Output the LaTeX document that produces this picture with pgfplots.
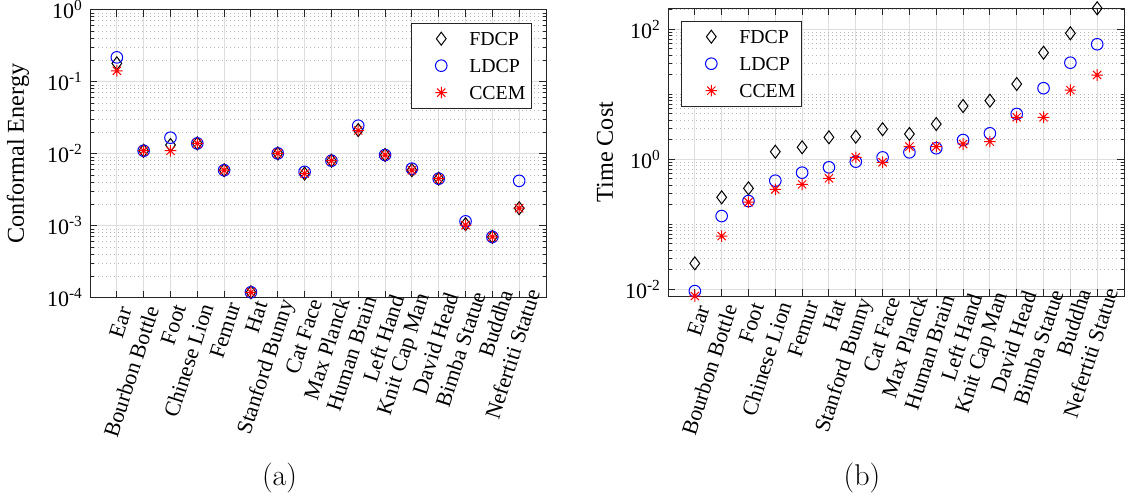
\documentclass[border=0pt]{standalone}
\usepackage{pgfplots}
\pgfplotsset{compat=1.18}
\usepackage{pgfplotstable}
\usepackage{fontspec}
\newfontfamily\tnr{Liberation Serif}
\usetikzlibrary{plotmarks}

\pgfdeclareplotmark{mstar}{%
  \pgfpathmoveto{\pgfqpoint{0pt}{\pgfplotmarksize}}%
  \pgfpathlineto{\pgfqpoint{0pt}{-\pgfplotmarksize}}%
  \pgfpathmoveto{\pgfqpoint{\pgfplotmarksize}{0pt}}%
  \pgfpathlineto{\pgfqpoint{-\pgfplotmarksize}{0pt}}%
  \pgfpathmoveto{\pgfqpoint{.707\pgfplotmarksize}{.707\pgfplotmarksize}}%
  \pgfpathlineto{\pgfqpoint{-.707\pgfplotmarksize}{-.707\pgfplotmarksize}}%
  \pgfpathmoveto{\pgfqpoint{-.707\pgfplotmarksize}{.707\pgfplotmarksize}}%
  \pgfpathlineto{\pgfqpoint{.707\pgfplotmarksize}{-.707\pgfplotmarksize}}%
  \pgfusepathqstroke}

\pgfplotstableread{
x fdcp ldcp ccem
1 0.18 0.218 0.142
2 0.011 0.011 0.011
3 0.0132 0.0167 0.011
4 0.0139 0.0139 0.0139
5 0.0059 0.0059 0.0059
6 1.19e-4 1.19e-4 1.19e-4
7 0.0101 0.0101 0.0101
8 0.0053 0.0056 0.0053
9 0.008 0.008 0.008
10 0.0213 0.0245 0.021
11 0.0096 0.0096 0.0096
12 0.0059 0.0062 0.0059
13 0.0045 0.0045 0.0045
14 0.00105 0.00115 0.00102
15 0.0007 0.0007 0.0007
16 0.00175 0.0042 0.00175
}\energy

\pgfplotstableread{
x fdcp ldcp ccem
1 0.0251 0.0094 0.0079
2 0.26 0.134 0.066
3 0.358 0.228 0.22
4 1.31 0.469 0.345
5 1.53 0.623 0.412
6 2.18 0.753 0.51
7 2.23 0.92 1.07
8 2.9 1.07 0.9
9 2.45 1.28 1.57
10 3.49 1.48 1.57
11 6.6 1.98 1.72
12 7.98 2.51 1.87
13 14.4 4.98 4.43
14 43.6 12.4 4.43
15 86.7 30.6 11.6
16 210 58.8 19.8
}\timecost

\pgfplotsset{
  fd/.style={only marks, mark=diamond, mark size=3.25pt, black, line width=0.5pt},
  ld/.style={only marks, mark=o, mark size=2.9pt, blue, line width=0.5pt},
  cc/.style={only marks, mark=mstar, mark size=2.9pt, red, line width=0.5pt},
}

\begin{document}
\begin{tikzpicture}
\path[use as bounding box] (0pt,0pt) rectangle (566.5pt,-250pt);

\begin{axis}[at={(45pt,-148.85pt)}, anchor=south west,
  scale only axis, width=228pt, height=144pt,
  ymode=log, xmin=0, xmax=17, xtick={1,...,16},
  xticklabels={Ear,Bourbon Bottle,Foot,Chinese Lion,Femur,Hat,Stanford Bunny,Cat Face,Max Planck,Human Brain,Left Hand,Knit Cap Man,David Head,Bimba Statue,Buddha,Nefertiti Statue},
  xticklabel style={rotate=72, anchor=east, font=\tnr\fontsize{11}{13}\selectfont, xshift=\ticknum*0.62pt, yshift=-5.5pt},
  yticklabel style={font=\tnr\fontsize{11}{13}\selectfont},
  tick align=inside, major tick length=3.5pt, minor tick length=1.75pt,
  xmajorgrids, ymajorgrids, yminorgrids,
  major grid style={black!13, line width=0.5pt},
  minor grid style={black!28, dash pattern=on 0.5pt off 1.5pt, line width=0.5pt},
  axis line style={black!85, line width=0.5pt},
  every tick/.style={black!85, line width=0.5pt},
  clip=false,
  label style={font=\tnr\fontsize{12.1}{14}\selectfont},
  legend cell align=left,
  legend style={draw=black!85, line width=0.5pt, fill=white,
    font=\tnr\fontsize{9.9}{11}\selectfont, inner xsep=12pt, inner ysep=4.45pt,
    row sep=6.9pt, nodes={inner sep=0pt, text height=6.6pt, text depth=0pt},
    /tikz/column 1/.style={column sep=11.1pt},
    at={(0.969,0.955)}, anchor=north east},
  ymin=1e-4, ymax=1,
  ytick={1e-4,1e-3,1e-2,1e-1,1},
  yticklabels={10\textsuperscript{-4},10\textsuperscript{-3},10\textsuperscript{-2},10\textsuperscript{-1},10\textsuperscript{0}},
  minor ytick={2e-4,3e-4,4e-4,5e-4,6e-4,7e-4,8e-4,9e-4,2e-3,3e-3,4e-3,5e-3,6e-3,7e-3,8e-3,9e-3,0.02,0.03,0.04,0.05,0.06,0.07,0.08,0.09,0.2,0.3,0.4,0.5,0.6,0.7,0.8,0.9},
  ylabel={Conformal Energy},
  ylabel style={at={(axis description cs:-0.158,0.5)}, anchor=center},
]
\addplot[fd] table[x=x, y=fdcp] {\energy};
\addplot[ld] table[x=x, y=ldcp] {\energy};
\addplot[cc] table[x=x, y=ccem] {\energy};
\legend{FDCP\hspace*{-9pt},LDCP\hspace*{-9pt},CCEM\hspace*{-9pt}}
\end{axis}

\begin{axis}[at={(334pt,-148pt)}, anchor=south west,
  scale only axis, width=228pt, height=143.85pt,
  ymode=log, xmin=0, xmax=17, xtick={1,...,16},
  xticklabels={Ear,Bourbon Bottle,Foot,Chinese Lion,Femur,Hat,Stanford Bunny,Cat Face,Max Planck,Human Brain,Left Hand,Knit Cap Man,David Head,Bimba Statue,Buddha,Nefertiti Statue},
  xticklabel style={rotate=72, anchor=east, font=\tnr\fontsize{11}{13}\selectfont, xshift=\ticknum*0.62pt, yshift=-5.5pt},
  yticklabel style={font=\tnr\fontsize{11}{13}\selectfont},
  tick align=inside, major tick length=3.5pt, minor tick length=1.75pt,
  xmajorgrids, ymajorgrids, yminorgrids,
  major grid style={black!13, line width=0.5pt},
  minor grid style={black!28, dash pattern=on 0.5pt off 1.5pt, line width=0.5pt},
  axis line style={black!85, line width=0.5pt},
  every tick/.style={black!85, line width=0.5pt},
  clip=false,
  label style={font=\tnr\fontsize{12.1}{14}\selectfont},
  legend cell align=left,
  legend style={draw=black!85, line width=0.5pt, fill=white,
    font=\tnr\fontsize{9.9}{11}\selectfont, inner xsep=12pt, inner ysep=4.45pt,
    row sep=6.9pt, nodes={inner sep=0pt, text height=6.6pt, text depth=0pt},
    /tikz/column 1/.style={column sep=11.1pt},
    at={(0.0285,0.957)}, anchor=north west},
  ymin=0.0079, ymax=210,
  ytick={1e-2,1,1e2},
  yticklabels={10\textsuperscript{-2},10\textsuperscript{0},10\textsuperscript{2}},
  minor ytick={0.02,0.03,0.04,0.05,0.06,0.07,0.08,0.09,0.1,0.2,0.3,0.4,0.5,0.6,0.7,0.8,0.9,2,3,4,5,6,7,8,9,10,20,30,40,50,60,70,80,90,200},
  ylabel={Time Cost},
  ylabel style={at={(axis description cs:-0.138,0.5)}, anchor=center},
]
\addplot[fd] table[x=x, y=fdcp] {\timecost};
\addplot[ld] table[x=x, y=ldcp] {\timecost};
\addplot[cc] table[x=x, y=ccem] {\timecost};
\legend{FDCP\hspace*{-9pt},LDCP\hspace*{-9pt},CCEM\hspace*{-9pt}}
\end{axis}

\node[font=\fontsize{15}{18}\selectfont] at (139.75pt,-239pt) {(a)};
\node[font=\fontsize{15}{18}\selectfont] at (431pt,-239pt) {(b)};
\end{tikzpicture}
\end{document}
